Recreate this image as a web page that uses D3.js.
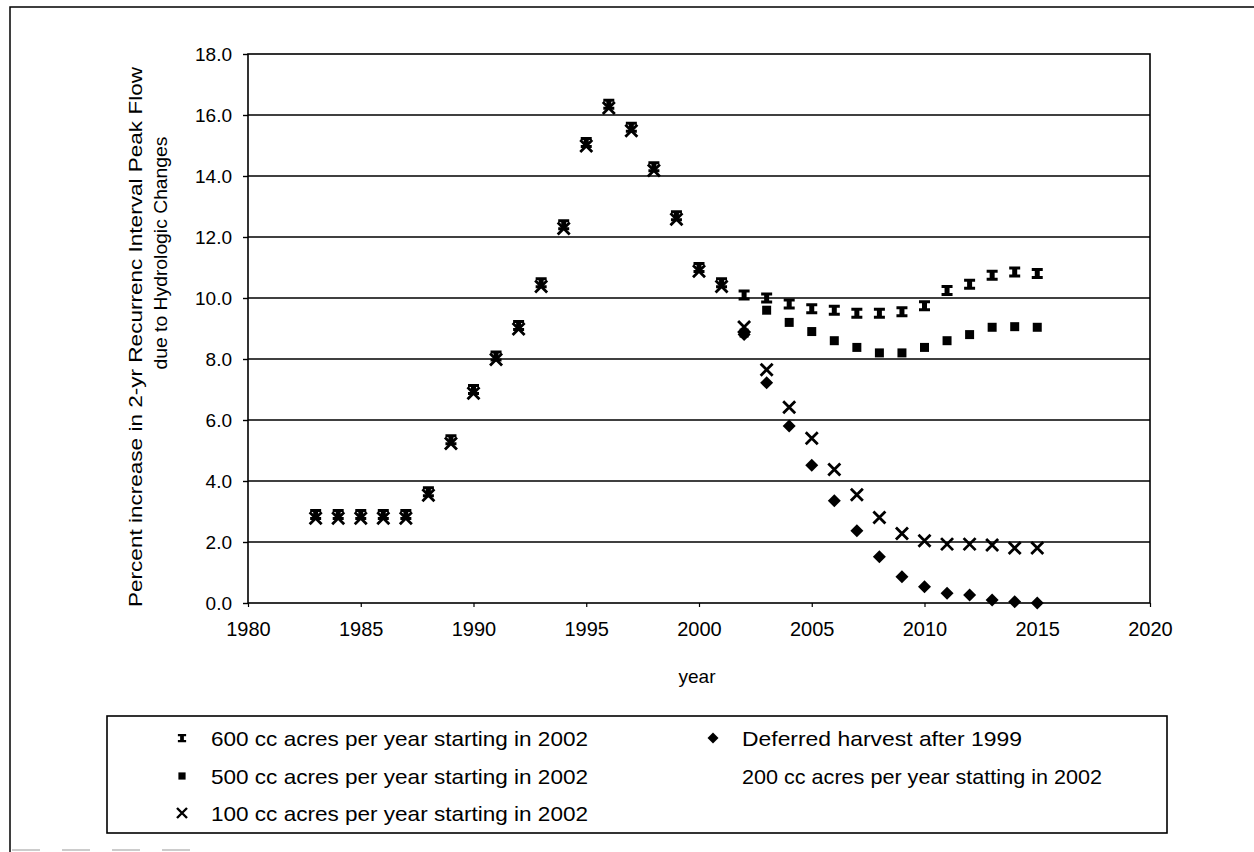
<!DOCTYPE html>
<html><head><meta charset="utf-8">
<script src="https://cdn.jsdelivr.net/npm/d3@7"></script>
<style>
body{margin:0;background:#fff;}
svg{display:block;font-family:"Liberation Sans",Arial,sans-serif;}
</style></head>
<body><svg id="c" width="1254" height="852"></svg>
<script>
// ---- data ----
const baselineYears = [1983,1984,1985,1986,1987,1988,1989,1990,1991,1992,1993,1994,1995,1996,1997,1998,1999,2000,2001];
const baselineValues = [2.9,2.9,2.9,2.9,2.9,3.65,5.35,7.0,8.1,9.1,10.5,12.4,15.1,16.35,15.6,14.3,12.7,11.0,10.5];
const projYears = [2002,2003,2004,2005,2006,2007,2008,2009,2010,2011,2012,2013,2014,2015];
const s600 = [10.1,10.0,9.8,9.65,9.6,9.5,9.5,9.55,9.75,10.25,10.45,10.75,10.85,10.8];
const s500 = [8.85,9.6,9.2,8.9,8.6,8.38,8.2,8.2,8.38,8.6,8.8,9.04,9.06,9.04];
const s100 = [9.05,7.65,6.42,5.4,4.38,3.55,2.8,2.28,2.04,1.93,1.93,1.9,1.8,1.8];
const deferred = [8.8,7.22,5.8,4.52,3.35,2.37,1.52,0.86,0.53,0.32,0.26,0.1,0.04,0.0];
const yTicks = [0,2,4,6,8,10,12,14,16,18];
const xTicks = [1980,1985,1990,1995,2000,2005,2010,2015,2020];
const legendLabels = [
  "600 cc acres per year starting in 2002",
  "500 cc acres per year starting in 2002",
  "100 cc acres per year starting in 2002",
  "Deferred harvest after 1999",
  "200 cc acres per year statting in 2002"
];
const yTitle1 = "Percent increase in 2-yr Recurrenc Interval Peak Flow";
const yTitle2 = "due to Hydrologic Changes";
const xTitle = "year";

// ---- layout ----
const svg = d3.select("#c");
const L = 248, R = 1150, T = 54, B = 603;
const x = d3.scaleLinear().domain([1980,2020]).range([L,R]);
const y = d3.scaleLinear().domain([0,18]).range([B,T]);

// outer frame
svg.append("path").attr("d","M10,852V7H1254").attr("fill","none").attr("stroke","#000").attr("stroke-width",1.5);
svg.append("line").attr("x1",12).attr("x2",200).attr("y1",850).attr("y2",850).attr("stroke","#999").attr("stroke-width",1.2).attr("stroke-dasharray","28,22");

// gridlines
svg.append("g").selectAll("line").data(yTicks.filter(d=>d>0 && d<18)).join("line")
  .attr("x1",L).attr("x2",R).attr("y1",d=>y(d)).attr("y2",d=>y(d))
  .attr("stroke","#000").attr("stroke-width",1.6);
// plot frame
svg.append("rect").attr("x",L).attr("y",T).attr("width",R-L).attr("height",B-T)
  .attr("fill","none").attr("stroke","#000").attr("stroke-width",1.6);

// axes
const yAxis = svg.append("g").attr("transform",`translate(${L},0)`)
  .call(d3.axisLeft(y).tickValues(yTicks).tickFormat(d3.format(".1f")).tickSize(5).tickPadding(11));
yAxis.select(".domain").remove();
yAxis.selectAll("text").attr("font-size",19).attr("font-family","Liberation Sans, Arial, sans-serif").attr("fill","#000");
yAxis.selectAll("line").attr("stroke","#000").attr("stroke-width",1.4);

const xAxis = svg.append("g").attr("transform",`translate(0,${B})`)
  .call(d3.axisBottom(x).tickValues(xTicks).tickFormat(d3.format("d")).tickSize(4).tickPadding(15));
xAxis.select(".domain").remove();
xAxis.selectAll("text").attr("font-size",20).attr("font-family","Liberation Sans, Arial, sans-serif").attr("fill","#000");
xAxis.selectAll("line").attr("stroke","#000").attr("stroke-width",1.2);

// titles
svg.append("text").attr("x",697).attr("y",683).attr("text-anchor","middle")
  .attr("font-size",19).text(xTitle);
svg.append("text").attr("transform","translate(142,337) rotate(-90)").attr("text-anchor","middle")
  .attr("font-size",19).attr("textLength",540).attr("lengthAdjust","spacingAndGlyphs").text(yTitle1);
svg.append("text").attr("transform","translate(167,253) rotate(-90)").attr("text-anchor","middle")
  .attr("font-size",19).attr("textLength",233).attr("lengthAdjust","spacingAndGlyphs").text(yTitle2);

// markers
const ibeam = "M-5.5,-5.5H5.5V-2.5H2.5V2.5H5.5V5.5H-5.5V2.5H-2.5V-2.5H-5.5Z";
const square = "M-4.5,-4.5H4.5V4.5H-4.5Z";
const diamond = "M0,-6.5L6.5,0L0,6.5L-6.5,0Z";
function drawPath(g, xs, vs, d){
  g.selectAll(null).data(vs).join("path")
    .attr("transform",(v,i)=>`translate(${x(xs[i])},${y(v)})`)
    .attr("d",d).attr("fill","#000");
}
function drawX(g, xs, vs, s){
  const sel = g.selectAll(null).data(vs).join("g")
    .attr("transform",(v,i)=>`translate(${x(xs[i])},${y(v)})`);
  sel.append("path").attr("d",`M${-s},${-s}L${s},${s}M${s},${-s}L${-s},${s}`)
    .attr("stroke","#000").attr("stroke-width",2.8).attr("fill","none");
}
const gm = svg.append("g");
// shared history (all scenarios coincide before 2002)
drawPath(gm, baselineYears, baselineValues, ibeam);
drawX(gm, baselineYears, baselineValues.map(v=>v-0.12), 6);
// projections
drawPath(gm, projYears, deferred, diamond);
drawPath(gm, projYears, s500, square);
drawX(gm, projYears, s100, 6);
drawPath(gm, projYears, s600, ibeam);

// legend
const lg = svg.append("g");
lg.append("rect").attr("x",107).attr("y",716).attr("width",1060).attr("height",117)
  .attr("fill","#fff").attr("stroke","#000").attr("stroke-width",1.6);
const rows = [738,776,813];
const col1M = 182, col1T = 211, col2M = 713, col2T = 742;
const legendWidths = [377,377,377,280,360];
const items = [
  {mx:col1M, tx:col1T, y:rows[0], m:"ibeam"},
  {mx:col1M, tx:col1T, y:rows[1], m:"square"},
  {mx:col1M, tx:col1T, y:rows[2], m:"x"},
  {mx:col2M, tx:col2T, y:rows[0], m:"diamond"},
  {mx:col2M, tx:col2T, y:rows[1], m:null}
];
items.forEach((it,i)=>{
  if(it.m==="ibeam") lg.append("path").attr("d",ibeam).attr("transform",`translate(${it.mx},${it.y}) scale(0.75)`).attr("fill","#000");
  if(it.m==="square") lg.append("path").attr("d",square).attr("transform",`translate(${it.mx},${it.y}) scale(0.8)`).attr("fill","#000");
  if(it.m==="diamond") lg.append("path").attr("d",diamond).attr("transform",`translate(${it.mx},${it.y}) scale(0.85)`).attr("fill","#000");
  if(it.m==="x") lg.append("path").attr("d","M-5,-5L5,5M5,-5L-5,5").attr("transform",`translate(${it.mx},${it.y})`).attr("stroke","#000").attr("stroke-width",2.4);
  lg.append("text").attr("x",it.tx).attr("y",it.y).attr("dy","0.36em")
    .attr("font-size",21).attr("textLength",legendWidths[i]).attr("lengthAdjust","spacingAndGlyphs")
    .text(legendLabels[i]);
});
</script>
</body></html>
